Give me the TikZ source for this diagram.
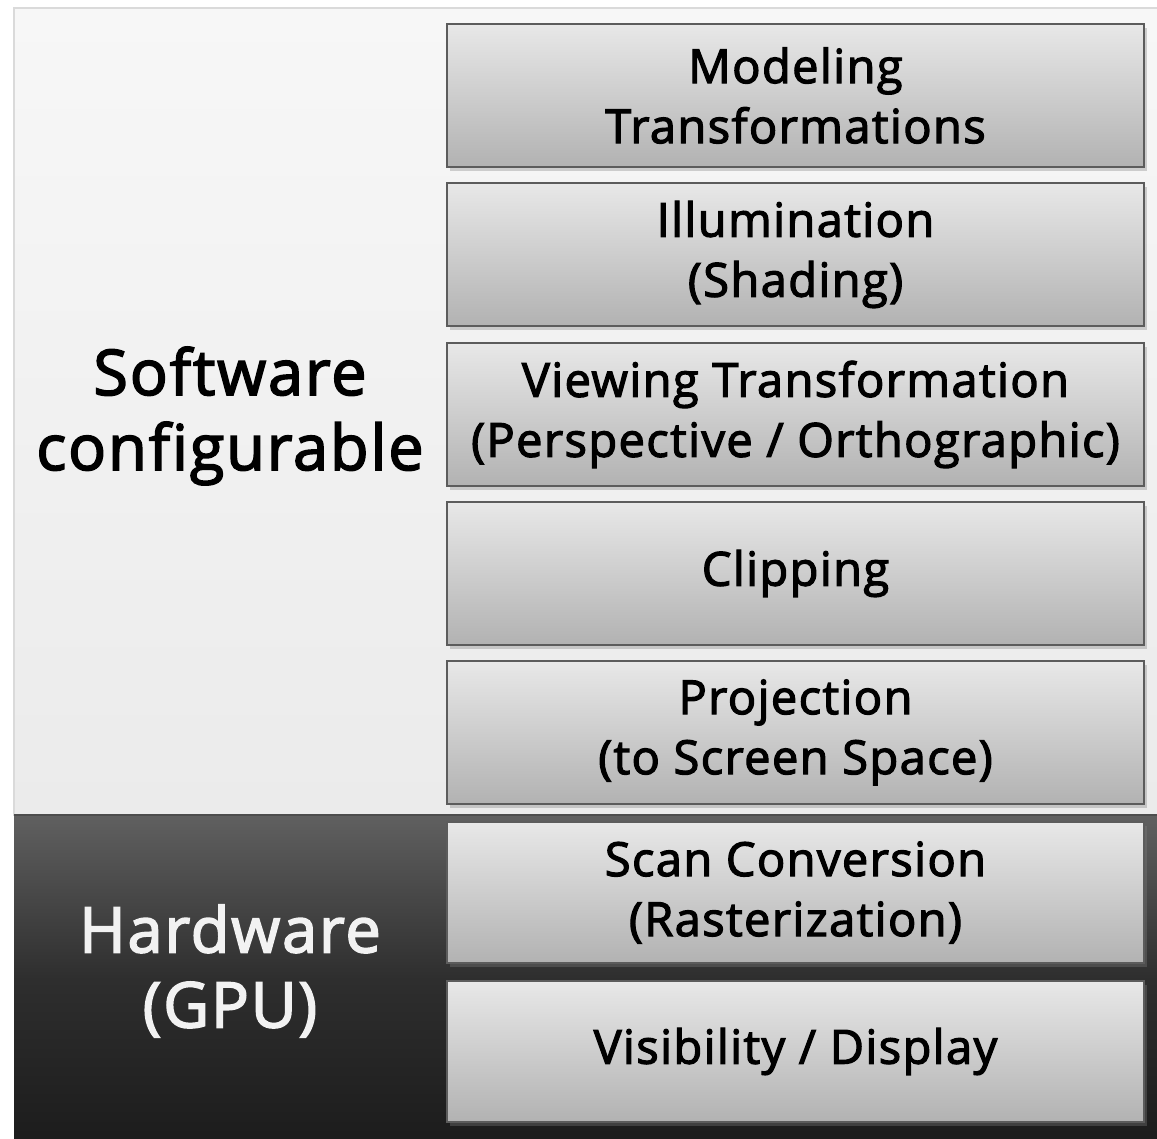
\documentclass[tikz,border=0pt]{standalone}
\usepackage{fontspec}
\setmainfont{Open Sans}[LetterSpace=3, FakeBold=2.6, Ligatures=CommonOff]
\usetikzlibrary{shadows}
\definecolor{boxtop}{HTML}{E8E8E8}
\definecolor{boxbot}{HTML}{B2B2B2}
\definecolor{boxedge}{HTML}{5C5C5C}
\definecolor{paneltop}{HTML}{F7F7F7}
\definecolor{panelbot}{HTML}{EBEBEB}
\definecolor{paneledge}{HTML}{DADADA}
\definecolor{darktop}{HTML}{606060}
\definecolor{darkmid}{HTML}{2E2E2E}
\definecolor{darkbot}{HTML}{1C1C1C}
\definecolor{lighttext}{HTML}{F2F2F2}
\begin{document}
\begin{tikzpicture}[x=1pt,y=1pt,
  stage/.style={draw=boxedge, line width=2pt, top color=boxtop, bottom color=boxbot,
    drop shadow={shadow xshift=3pt, shadow yshift=-4pt, opacity=.35},
    minimum width=697pt, minimum height=143pt, inner sep=0pt, align=center,
    font=\fontsize{47}{60}\selectfont, text=black},
  paneltext/.style={align=center, font=\fontsize{63}{75}\selectfont}
]
\useasboundingbox (0,0) rectangle (1157,1139);
\fill[white] (0,0) rectangle (1157,1139);
\draw[draw=paneledge, line width=2pt, top color=paneltop, bottom color=panelbot] (14,324) rectangle (1165,1131);
\shade[top color=darktop, bottom color=darkbot, middle color=darkmid] (14,-5) rectangle (1165,324);
\draw[darktop!80!black, line width=1.5pt] (14,324) -- (1165,324);

\node[stage] (s1) at (795.5,1043.5) {Modeling\\Transformations};
\node[stage] (s2) at (795.5,884.5) {Illumination\\(Shading)};
\node[stage] (s3) at (795.5,724.5) {Viewing Transformation\\(Perspective / Orthographic)};
\node[stage] (s4) at (795.5,565.5) {Clipping};
\node[stage] (s5) at (795.5,406.5) {Projection\\(to Screen Space)};
\node[stage, minimum height=141pt] (s6) at (795.5,246.5) {Scan Conversion\\(Rasterization)};
\node[stage, minimum height=141pt] (s7) at (795.5,87.5) {Visibility / Display};

\node[paneltext, text=black] (sw) at (230,723) {Software\\configurable};
\node[paneltext, text=lighttext] (hw) at (230,168) {Hardware\\(GPU)};
\end{tikzpicture}
\end{document}
